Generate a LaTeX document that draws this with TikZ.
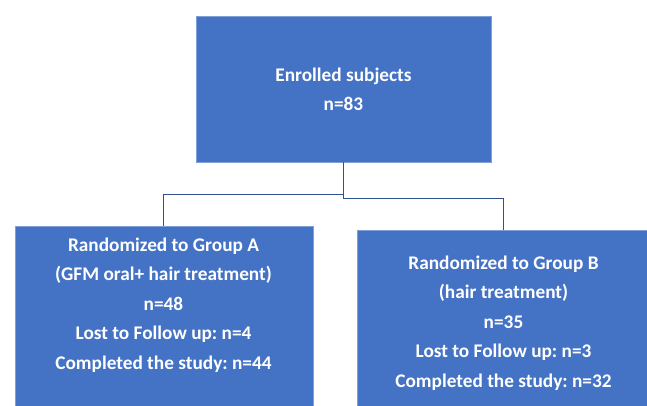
\documentclass[tikz,border=0pt]{standalone}
\usepackage{fontspec}
\setmainfont{Carlito}
\frenchspacing
\definecolor{boxblue}{HTML}{4472C4}
\definecolor{boxedge}{HTML}{7F9FD8}
\definecolor{linkblue}{HTML}{2F528F}
\begin{document}
\begin{tikzpicture}[x=1pt,y=-1pt,
  boxstyle/.style={fill=boxblue,draw=boxedge,line width=0.6pt},
  txt/.style={text=white,font=\bfseries\fontsize{19.3}{22}\selectfont,inner sep=0pt,anchor=base},
  link/.style={draw=linkblue,line width=1.8pt}]
\useasboundingbox (0,0) rectangle (647,405);
% boxes
\path[boxstyle] (196,16) rectangle (491,162);
\path[boxstyle] (15,226) rectangle (313,410);
\path[boxstyle] (357,230) rectangle (652,410);
\coordinate (topb) at (343.5,162);
\coordinate (la) at (163.5,226);
\coordinate (rb) at (503.5,230);
% texts
\node[txt] (t1) at (343.5,81) {Enrolled subjects};
\node[txt] (t2) at (343.5,110) {n=83};
\node[txt] (a1) at (163.5,251) {Randomized to Group A};
\node[txt] (a2) at (163.5,280.5) {(GFM oral+ hair treatment)};
\node[txt] (a3) at (163.5,310) {n=48};
\node[txt] (a4) at (163.5,339.5) {Lost to Follow up: n=4};
\node[txt] (a5) at (163.5,369) {Completed the study: n=44};
\node[txt] (b1) at (503.5,269) {Randomized to Group B};
\node[txt] (b2) at (503.5,298.5) {(hair treatment)};
\node[txt] (b3) at (503.5,328) {n=35};
\node[txt] (b4) at (503.5,357.5) {Lost to Follow up: n=3};
\node[txt] (b5) at (503.5,387) {Completed the study: n=32};
% connectors
\draw[link] (topb) -- (topb |- 0,194.5) -| (la);
\draw[link] (topb) -- (topb |- 0,198.5) -| (rb);
\end{tikzpicture}
\end{document}
